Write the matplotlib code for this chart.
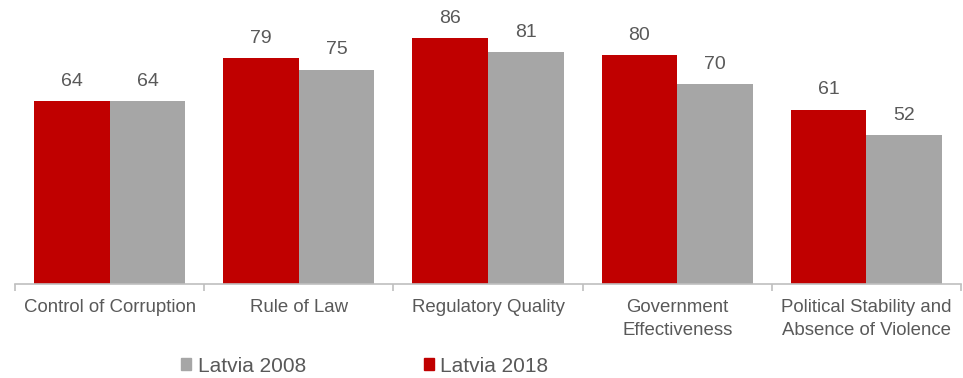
import numpy as np
import matplotlib.pyplot as plt
from matplotlib.patches import Patch

plt.rcParams['font.family'] = ['Liberation Sans', 'DejaVu Sans']

# indikatori un vērtības
categories = ['Control of Corruption', 'Rule of Law', 'Regulatory Quality',
              'Government\nEffectiveness', 'Political Stability and\nAbsence of Violence']
latvia_2018 = [64, 79, 86, 80, 61]
latvia_2008 = [64, 75, 81, 70, 52]

red = '#C00000'
grey = '#A6A6A6'
txt = '#595959'

W, H = 963, 378
fig = plt.figure(figsize=(W / 100, H / 100), dpi=100)
ax = fig.add_axes([15 / W, (H - 283.5) / H, 946 / W, 283.5 / H])

x = np.arange(len(categories))
w = 0.4
b18 = ax.bar(x - w / 2, latvia_2018, w, color=red, edgecolor='none')
b08 = ax.bar(x + w / 2, latvia_2008, w, color=grey, edgecolor='none')

for bars, vals in ((b18, latvia_2018), (b08, latvia_2008)):
    for r, v in zip(bars, vals):
        ax.annotate(str(v), (r.get_x() + r.get_width() / 2, v), xytext=(0, 8),
                    textcoords='offset points', ha='center', va='bottom',
                    fontsize=14, color=txt)

ax.set_xlim(-0.5, len(categories) - 0.5)
ax.set_ylim(0, 99.4)
ax.set_yticks([])
for s in ('top', 'right', 'left'):
    ax.spines[s].set_visible(False)
ax.spines['bottom'].set_color('#BFBFBF')
ax.spines['bottom'].set_linewidth(1.2)

ax.set_xticks(x)
ax.set_xticklabels(categories, fontsize=13.4, color=txt, linespacing=1.4)
ax.set_xticks(np.arange(-0.5, len(categories)), minor=True)
ax.tick_params(axis='x', which='major', length=0, pad=11.5)
ax.tick_params(axis='x', which='minor', length=5, color='#BFBFBF', width=1.2)

handles = [Patch(color=grey, label='Latvia 2008'), Patch(color=red, label='Latvia 2018')]
fig.legend(handles=handles, loc='center left', bbox_to_anchor=(181 / W, 1 - 366 / H),
           ncol=2, frameon=False, fontsize=15, handlelength=0.5, handleheight=0.5,
           handletextpad=0.3, columnspacing=5.65, borderpad=0, borderaxespad=0,
           labelcolor=txt)

fig.savefig('out.png', dpi=100)
